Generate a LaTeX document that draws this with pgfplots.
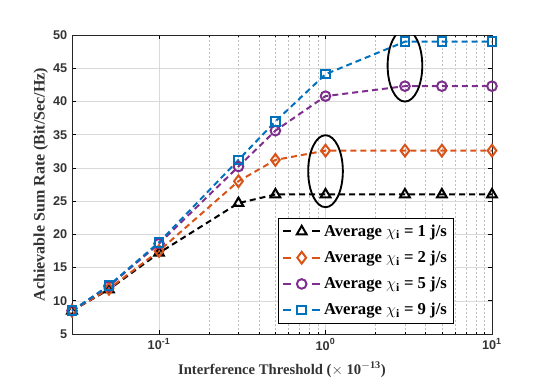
\documentclass[border=0pt]{standalone}
\usepackage{fontspec}
\setmainfont{Liberation Serif}
\setsansfont{Liberation Sans}
\usepackage{pgfplots}
\pgfplotsset{compat=1.18}
\definecolor{mblue}{rgb}{0,0.447,0.741}
\definecolor{morange}{rgb}{0.85,0.325,0.098}
\definecolor{mpurple}{rgb}{0.494,0.184,0.556}

\begin{document}
\begin{tikzpicture}
\begin{semilogxaxis}[
  scale only axis,
  width=315pt, height=224.25pt,
  xmin=0.03, xmax=10, ymin=5, ymax=50,
  ytick={5,10,...,50},
  xtick={0.1,1,10},
  xticklabels={10\textsuperscript{-1},10\textsuperscript{0},10\textsuperscript{1}},
  xmajorgrids, xminorgrids, ymajorgrids,
  major grid style={black!15, line width=0.4pt},
  minor grid style={black!25, line width=0.4pt, dash pattern=on 1.5pt off 1.5pt},
  tick align=inside,
  major tick length=3pt, minor tick length=1.8pt,
  every tick/.style={black, line width=0.5pt},
  axis line style={line width=0.6pt, black!85},
  /pgf/number format/assume math mode=true,
  ticklabel style={font=\sffamily\bfseries\fontsize{9.5}{11}\selectfont, text=black!80},
  xlabel={\textbf{Interference Threshold ($\times$ 10$^{\mathbf{-13}}$)}},
  ylabel={\textbf{Achievable Sum Rate (Bit/Sec/Hz)}},
  xlabel style={font=\fontsize{11}{13}\selectfont, text=black!80, yshift=-2pt},
  ylabel style={font=\fontsize{12}{14}\selectfont, text=black!80, yshift=-3pt},
  legend style={at={(0.9095,0.0334)}, anchor=south east,
    font=\fontsize{12.5}{14}\selectfont\bfseries, draw=black, line width=0.6pt,
    row sep=5.5pt, inner sep=3pt},
  legend cell align=left,
  legend image code/.code={
    \draw[solid] (0pt,0pt) -- (6pt,0pt);
    \draw[solid] (22pt,0pt) -- (28pt,0pt);
    \draw[solid] plot coordinates {(14pt,0pt)};
  },
  mark options={solid, fill=white, line width=1.5pt},
]
\addplot[black, line width=1.5pt, dash pattern=on 4.5pt off 3pt, mark=triangle, mark size=4.2pt] coordinates {
  (0.03,8.5) (0.05,11.7) (0.1,17.2) (0.3,24.7) (0.5,26) (1,26) (3,26) (5,26) (10,26)
};
\addlegendentry{Average $\chi_{\mathbf{i}}$ = 1 j/s}
\addplot[morange, line width=1.5pt, dash pattern=on 4.5pt off 3pt, mark=diamond, mark size=4.4pt] coordinates {
  (0.03,8.5) (0.05,11.8) (0.1,17.5) (0.3,28) (0.5,31.2) (1,32.6) (3,32.6) (5,32.6) (10,32.6)
};
\addlegendentry{Average $\chi_{\mathbf{i}}$ = 2 j/s}
\addplot[mpurple, line width=1.5pt, dash pattern=on 4.5pt off 3pt, mark=o, mark size=3.6pt] coordinates {
  (0.03,8.5) (0.05,12.2) (0.1,18.6) (0.3,30.2) (0.5,35.6) (1,40.8) (3,42.3) (5,42.3) (10,42.3)
};
\addlegendentry{Average $\chi_{\mathbf{i}}$ = 5 j/s}
\addplot[mblue, line width=1.5pt, dash pattern=on 4.5pt off 3pt, mark=square, mark size=3.2pt] coordinates {
  (0.03,8.5) (0.05,12.3) (0.1,18.8) (0.3,31.2) (0.5,37) (1,44.1) (3,49) (5,49) (10,49)
};
\addlegendentry{Average $\chi_{\mathbf{i}}$ = 9 j/s}

\draw[black, line width=1.4pt] (axis cs:1,29.5) ellipse [x radius=13pt, y radius=27pt];
\draw[black, line width=1.4pt] (axis cs:3,45.4) ellipse [x radius=13pt, y radius=27pt];
\end{semilogxaxis}
\pgfresetboundingbox
\path[use as bounding box] (-54pt,-34.5pt) rectangle (354pt,250.5pt);
\end{tikzpicture}
\end{document}
